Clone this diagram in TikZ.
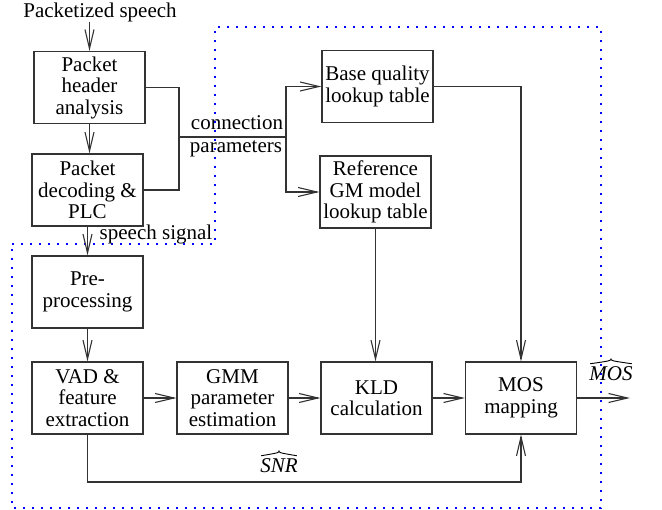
\documentclass[tikz,border=0pt]{standalone}
\usepackage{fontspec}
\setmainfont{Liberation Serif}
\usetikzlibrary{arrows.meta}
\begin{document}
\begin{tikzpicture}[x=1pt,y=-1pt,
  every node/.style={font=\rmfamily\fontsize{21}{21.5}\selectfont, inner sep=0pt},
  blk/.style={draw=black!80, line width=1.1pt, minimum width=111pt, minimum height=72pt, align=center},
  conn/.style={draw=black!80, line width=1.1pt},
  arr/.style={conn, -{Straight Barb[length=19pt,width=9pt,line width=1.1pt]}},
  hatlbl/.style={font=\rmfamily\itshape\fontsize{21}{21.5}\selectfont},
  hatline/.style={draw=black, line width=0.9pt, line join=round},
  bnd/.style={draw=blue, line width=1.5pt, dash pattern=on 1.6pt off 7.4pt}]
\useasboundingbox (0,0) rectangle (662,510);
% boundary
\draw[bnd] (12,244) -- (215,244) -- (215,27) -- (601,27) -- (601,508) -- (12,508) -- cycle;
% blocks
\node[blk] (hdr) at (89.5,87.5) {Packet\\header\\analysis};
\node[blk] (dec) at (87.5,190) {Packet\\decoding \&\\PLC};
\node[blk] (pre) at (87.5,292) {Pre-\\processing};
\node[blk] (vad) at (87.5,398) {VAD \&\\feature\\extraction};
\node[blk] (gmm) at (232.5,398) {GMM\\parameter\\estimation};
\node[blk] (kld) at (376.5,398) {KLD\\calculation};
\node[blk] (mos) at (521,398) {MOS\\mapping};
\node[blk] (base) at (377.5,86.5) {Base quality\\lookup table};
\node[blk] (ref) at (375.5,192) {Reference\\GM model\\lookup table};
% input
\node (in) at (100,12) {Packetized speech};
\draw[arr] (in.south -| hdr) -- (hdr.north);
\draw[arr] (hdr.south) -- (hdr.south |- dec.north);
\draw[arr] (dec.south) -- (dec.south |- pre.north);
\draw[arr] (pre.south) -- (vad.north);
\node (sp) at (156,234) {speech signal};
% connection parameters
\coordinate (j) at (179,137);
\coordinate (k) at (286,137);
\draw[conn] (hdr.east) -| (j);
\draw[conn] (dec.east) -| (j);
\draw[conn] (j) -- (k);
\draw[arr] (k) |- (base.west);
\draw[arr] (k) |- (ref.west);
\node (c1) at (237,123) {connection};
\node (c2) at (236,149) {parameters};
% right side
\draw[arr] (base.east) -| (mos.north);
\draw[arr] (ref.south) -- (ref.south |- kld.north);
% bottom chain
\draw[arr] (vad.east) -- (gmm.west);
\draw[arr] (gmm.east) -- (kld.west);
\draw[arr] (kld.east) -- (mos.west);
\coordinate (snr) at (87.5,482);
\draw[arr] (vad.south) -- (snr) -| (mos.south);
\node[hatlbl] (snrl) at (279,466) {SNR};
\draw[hatline] ([xshift=1pt,yshift=3pt]snrl.north west) .. controls ([yshift=6pt]snrl.north) .. ([yshift=8pt]snrl.north) .. controls ([yshift=6pt]snrl.north) .. ([xshift=-1pt,yshift=3pt]snrl.north east);
\coordinate (out) at (630,398);
\draw[arr] (mos.east) -- (out);
\node[hatlbl] (mosl) at (611,374) {MOS};
\draw[hatline] ([xshift=1pt,yshift=3pt]mosl.north west) .. controls ([yshift=6pt]mosl.north) .. ([yshift=8pt]mosl.north) .. controls ([yshift=6pt]mosl.north) .. ([xshift=-1pt,yshift=3pt]mosl.north east);
\end{tikzpicture}
\end{document}
